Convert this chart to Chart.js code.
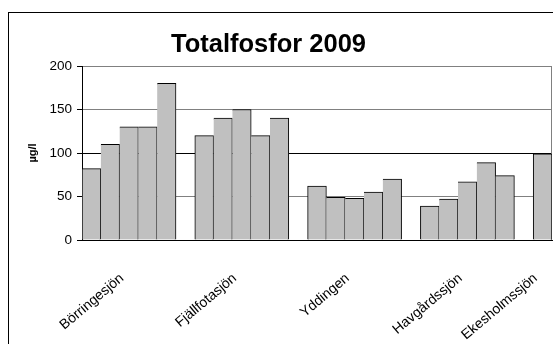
<!DOCTYPE html>
<html>
<head>
<meta charset="utf-8">
<script src="https://cdn.jsdelivr.net/npm/chart.js@4/dist/chart.umd.min.js"></script>
<style>
  html, body { margin: 0; padding: 0; background: #fff; }
  #wrap { position: relative; width: 553px; height: 344px; }
</style>
</head>
<body>
<div id="wrap"><canvas id="c" width="553" height="344"></canvas></div>
<script>
// Lakes and their measured total phosphorus (µg/l) in 2009
const lakes = ['Börringesjön', 'Fjällfotasjön', 'Yddingen', 'Havgårdssjön', 'Ekesholmssjön'];
const borringesjon = [82, 110, 130, 130, 180];
const fjallfotasjon = [120, 140, 150, 120, 140];
const yddingen = [62, 49, 48, 55, 70];
const havgardssjon = [39, 47, 67, 89, 74];
const ekesholmssjon = [99];
const yTicks = [0, 50, 100, 150, 200];
const chartTitle = 'Totalfosfor 2009';

const series = [borringesjon, fjallfotasjon, yddingen, havgardssjon, ekesholmssjon];

// One slot per sample, an empty slot between lakes, lake name under the middle bar
const labels = [];
const values = [];
series.forEach((vals, i) => {
  if (i > 0) { labels.push(''); values.push(null); }
  const mid = Math.floor(vals.length / 2);
  vals.forEach((v, j) => {
    labels.push(j === mid ? lakes[i] : '');
    values.push(v);
  });
});

const FONT = "'Liberation Sans', Arial, sans-serif";

const frame = {
  id: 'frame',
  beforeDraw(chart) {
    const ctx = chart.ctx;
    ctx.save();
    ctx.fillStyle = '#fff';
    ctx.fillRect(0, 0, chart.width, chart.height);
    ctx.strokeStyle = '#000';
    ctx.lineWidth = 1;
    ctx.strokeRect(8.5, 12.5, 700, 500);
    ctx.restore();
  },
  beforeDatasetsDraw(chart) {
    const a = chart.chartArea;
    const ctx = chart.ctx;
    ctx.save();
    ctx.strokeStyle = '#808080';
    ctx.lineWidth = 1;
    ctx.beginPath();
    ctx.moveTo(Math.round(a.right) - 0.5, a.top);
    ctx.lineTo(Math.round(a.right) - 0.5, a.bottom);
    ctx.stroke();
    ctx.restore();
  },
  afterDraw(chart) {
    // chart heading, centred over the framed area
    const ctx = chart.ctx;
    ctx.save();
    ctx.fillStyle = '#000';
    ctx.font = 'bold 25.5px ' + FONT;
    ctx.textAlign = 'center';
    ctx.textBaseline = 'alphabetic';
    ctx.fillText(chartTitle, 268.5, 52);
    ctx.restore();
  }
};

new Chart(document.getElementById('c'), {
  type: 'bar',
  data: {
    labels: labels,
    datasets: [{
      data: values,
      backgroundColor: '#c0c0c0',
      borderColor: '#000',
      borderSkipped: false,
      borderWidth: (ctx) => {
        const i = ctx.dataIndex;
        const prevEmpty = i === 0 || values[i - 1] === null;
        return { top: 1, right: 1, bottom: 0, left: prevEmpty ? 1 : 0 };
      },
      barPercentage: 1,
      categoryPercentage: 1
    }]
  },
  options: {
    responsive: false,
    animation: false,
    layout: { padding: { top: 66, left: 20, right: 1, bottom: 0 } },
    plugins: {
      legend: { display: false },
      tooltip: { enabled: false },
      title: { display: false }
    },
    scales: {
      x: {
        grid: { display: false, drawTicks: false },
        border: { display: true, color: '#000', width: 1 },
        ticks: {
          autoSkip: false,
          minRotation: 40,
          maxRotation: 40,
          padding: 30,
          labelOffset: -7,
          color: '#000',
          font: { family: FONT, size: 14 }
        },
        afterFit(scale) {
          scale.height = 104;
          scale.paddingLeft = 0;
          scale.paddingRight = 0;
        }
      },
      y: {
        min: 0,
        max: 200,
        afterBuildTicks(scale) { scale.ticks = yTicks.map(v => ({ value: v })); },
        grid: {
          color: (ctx) => (ctx.tick && ctx.tick.value === 100 ? '#000' : '#808080'),
          tickColor: '#000',
          tickLength: 5,
          lineWidth: 1
        },
        border: { display: true, color: '#000', width: 1 },
        ticks: {
          padding: 5,
          color: '#000',
          font: { family: FONT, size: 13.5 }
        },
        title: {
          display: true,
          text: 'µg/l',
          color: '#000',
          font: { family: FONT, size: 11, weight: 'bold', lineHeight: 1.2 },
          padding: { top: 6, bottom: 0 }
        },
        afterFit(scale) { scale.width = 62; }
      }
    }
  },
  plugins: [frame]
});
</script>
</body>
</html>
